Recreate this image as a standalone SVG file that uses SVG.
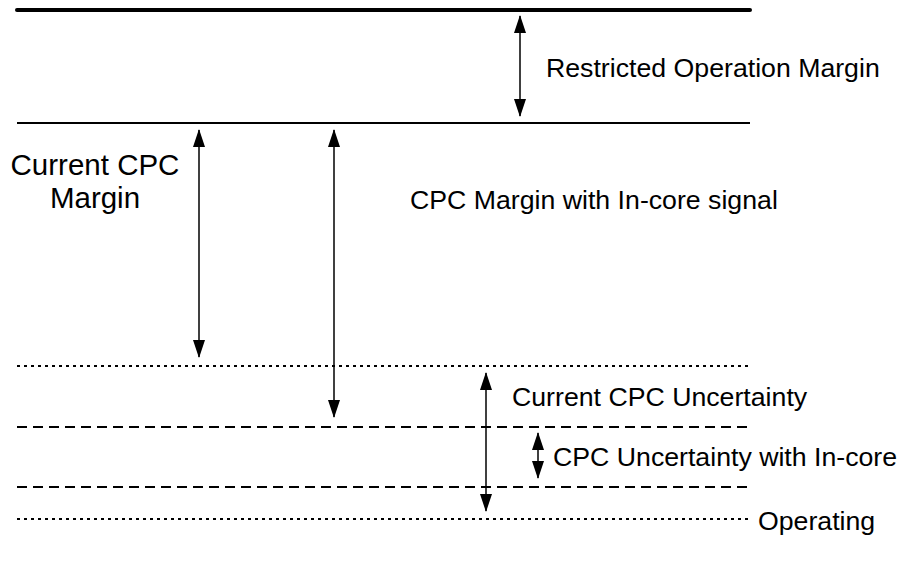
<svg xmlns="http://www.w3.org/2000/svg" width="905" height="564" viewBox="0 0 905 564">
  <defs>
    <marker id="head" viewBox="0 0 18 12" refX="17" refY="6" markerWidth="18" markerHeight="12" markerUnits="userSpaceOnUse" orient="auto-start-reverse">
      <path d="M0,0 L18,6 L0,12 Z" fill="#000"/>
    </marker>
  </defs>
  <style>
    .lvl { stroke: #000; fill: none; }
    .dot { stroke-width: 2; stroke-dasharray: 3 4; }
    .dash { stroke-width: 2; stroke-dasharray: 10 6; }
    .arr { stroke: #000; stroke-width: 1.5; fill: none; marker-start: url(#head); marker-end: url(#head); }
    text { font-family: "Liberation Sans", Arial, sans-serif; fill: #000; }
    .s20 { font-size: 26.7px; }
    .s24 { font-size: 29.5px; }
  </style>
  <rect width="905" height="564" fill="#fff"/>

  <!-- level lines -->
  <g id="levels">
    <line class="lvl" x1="17" y1="10" x2="750" y2="10" stroke-width="4" stroke-linecap="round"/>
    <line class="lvl" x1="17" y1="123" x2="750" y2="123" stroke-width="2"/>
    <line class="lvl dot" x1="17" y1="366" x2="750" y2="366"/>
    <line class="lvl dash" x1="17" y1="427" x2="750" y2="427"/>
    <line class="lvl dash" x1="17" y1="487" x2="750" y2="487"/>
    <line class="lvl dot" x1="17" y1="519" x2="750" y2="519"/>
  </g>

  <!-- double-headed span arrows -->
  <g id="connectors">
    <line class="arr" x1="520" y1="16" x2="520" y2="116"/>
    <line class="arr" x1="199" y1="130" x2="199" y2="357"/>
    <line class="arr" x1="334" y1="130" x2="334" y2="417"/>
    <line class="arr" x1="486" y1="373" x2="486" y2="511"/>
    <line class="arr" x1="538" y1="433" x2="538" y2="478"/>
  </g>

  <g id="restricted-margin"><text class="s20" x="546" y="77">Restricted Operation Margin</text></g>
  <g id="current-cpc-margin">
    <text class="s24" x="95" y="175" text-anchor="middle">Current CPC</text>
    <text class="s24" x="95" y="208" text-anchor="middle">Margin</text>
  </g>
  <g id="incore-margin"><text class="s20" x="410" y="209">CPC Margin with In-core signal</text></g>
  <g id="current-uncertainty"><text class="s20" x="512" y="406">Current CPC Uncertainty</text></g>
  <g id="incore-uncertainty"><text class="s20" x="553" y="466">CPC Uncertainty with In-core</text></g>
  <g id="operating"><text class="s20" x="758" y="530">Operating</text></g>
</svg>
